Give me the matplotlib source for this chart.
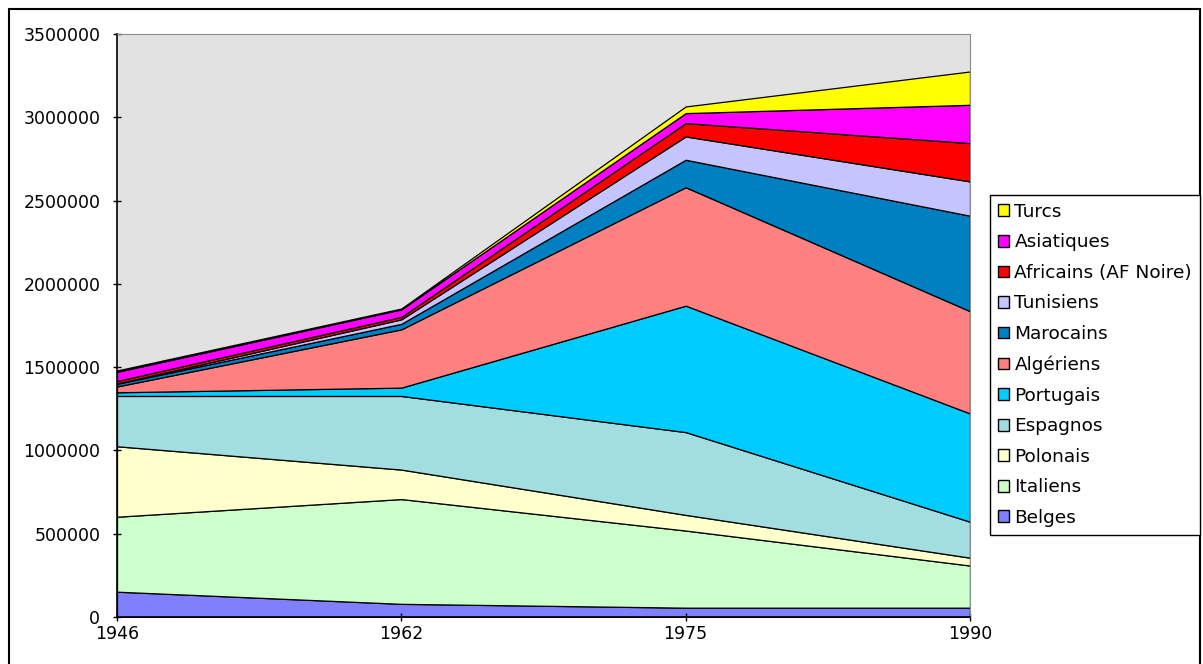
import matplotlib.pyplot as plt
from matplotlib.patches import Patch, Rectangle
from matplotlib.ticker import FuncFormatter

years = ['1946', '1962', '1975', '1990']

# populations by nationality, bottom of the stack first
belges = [152000, 79000, 56000, 56000]
italiens = [450000, 629000, 463000, 253000]
polonais = [423000, 177000, 94000, 47000]
espagnols = [302000, 442000, 497000, 216000]
portugais = [22000, 50000, 759000, 650000]
algeriens = [35000, 350000, 711000, 614000]
marocains = [16000, 33000, 165000, 573000]
tunisiens = [2000, 27000, 140000, 206000]
africains = [15000, 15000, 80000, 230000]
asiatiques = [55000, 45000, 60000, 230000]
turcs = [8000, 5000, 40000, 200000]

labels = ['Belges', 'Italiens', 'Polonais', 'Espagnos', 'Portugais', 'Algériens',
          'Marocains', 'Tunisiens', 'Africains (AF Noire)', 'Asiatiques', 'Turcs']
series = [belges, italiens, polonais, espagnols, portugais, algeriens,
          marocains, tunisiens, africains, asiatiques, turcs]
colors = ['#8080FF', '#CCFFCC', '#FFFFCC', '#A2DEE0', '#00CCFF', '#FF8080',
          '#0080C0', '#C4C4FF', '#FF0000', '#FF00FF', '#FFFF00']

plt.rcParams['font.family'] = 'DejaVu Sans'
plt.rcParams['font.size'] = 12.5

fig = plt.figure(figsize=(12.03, 6.64), dpi=100)
ax = fig.add_axes([117 / 1203, 1 - 617 / 664, (970 - 117) / 1203, (617 - 34) / 664])

x = list(range(len(years)))
ax.stackplot(x, *series, colors=colors, edgecolor='black', linewidth=0.9)

ax.set_facecolor('#E2E2E2')
ax.set_xlim(0, 3)
ax.set_ylim(0, 3500000)
ax.set_xticks(x)
ax.set_xticklabels(years)
ax.set_yticks(range(0, 3500001, 500000))
ax.yaxis.set_major_formatter(FuncFormatter(lambda v, p: str(int(v))))
ax.tick_params(axis='y', direction='inout', length=6, width=1, pad=9)
ax.tick_params(axis='x', direction='inout', length=6, width=1, pad=3)

for side in ['top', 'right']:
    ax.spines[side].set_color('#8C8C8C')
for side in ['left', 'bottom']:
    ax.spines[side].set_color('black')
    ax.spines[side].set_linewidth(1.2)

# legend, top entry first like the stack
handles = [Patch(facecolor=c, edgecolor='black', linewidth=1.0) for c in colors]
leg = fig.legend(handles[::-1], labels[::-1], loc='upper left',
                 bbox_to_anchor=(990 / 1203, 1 - 195 / 664),
                 fancybox=False, edgecolor='black', framealpha=1,
                 handlelength=0.6, handleheight=0.6, handletextpad=0.3,
                 labelspacing=0.68, borderpad=0.42, borderaxespad=0, fontsize=13.3)
leg.get_frame().set_linewidth(1.0)

# outer frame around the whole chart
fig.patches.append(Rectangle((8.5 / 1203, -0.05), (1200 - 8.5) / 1203, 1.05 - 8.5 / 664,
                             transform=fig.transFigure, fill=False,
                             edgecolor='black', linewidth=1.5))

fig.savefig('out.png', dpi=100)
